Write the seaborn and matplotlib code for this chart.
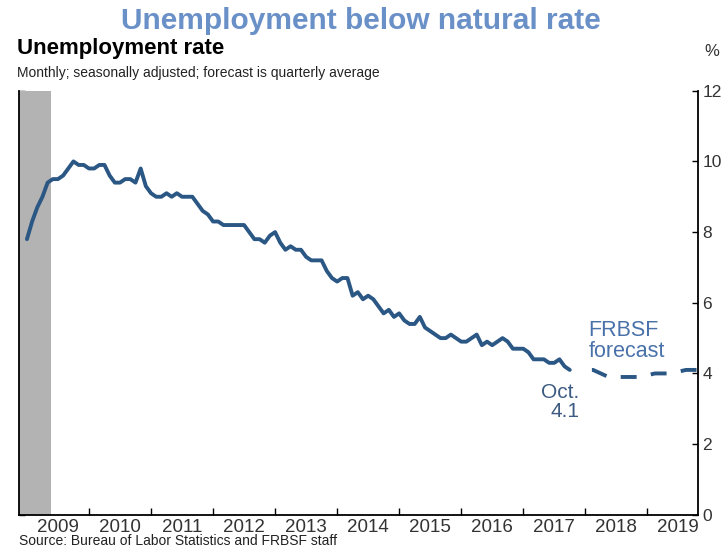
import numpy as np
import pandas as pd
import matplotlib.pyplot as plt
import seaborn as sns

# monthly unemployment rate, Jan 2009 - Oct 2017
unrate = [7.8, 8.3, 8.7, 9.0, 9.4, 9.5, 9.5, 9.6, 9.8, 10.0, 9.9, 9.9,
          9.8, 9.8, 9.9, 9.9, 9.6, 9.4, 9.4, 9.5, 9.5, 9.4, 9.8, 9.3,
          9.1, 9.0, 9.0, 9.1, 9.0, 9.1, 9.0, 9.0, 9.0, 8.8, 8.6, 8.5,
          8.3, 8.3, 8.2, 8.2, 8.2, 8.2, 8.2, 8.0, 7.8, 7.8, 7.7, 7.9,
          8.0, 7.7, 7.5, 7.6, 7.5, 7.5, 7.3, 7.2, 7.2, 7.2, 6.9, 6.7,
          6.6, 6.7, 6.7, 6.2, 6.3, 6.1, 6.2, 6.1, 5.9, 5.7, 5.8, 5.6,
          5.7, 5.5, 5.4, 5.4, 5.6, 5.3, 5.2, 5.1, 5.0, 5.0, 5.1, 5.0,
          4.9, 4.9, 5.0, 5.1, 4.8, 4.9, 4.8, 4.9, 5.0, 4.9, 4.7, 4.7,
          4.7, 4.6, 4.4, 4.4, 4.4, 4.3, 4.3, 4.4, 4.2, 4.1]
# FRBSF forecast, quarterly averages 2017Q4 - 2019Q4
fc_quarters = ["2017Q4", "2018Q1", "2018Q2", "2018Q3", "2018Q4",
               "2019Q1", "2019Q2", "2019Q3", "2019Q4"]
fc_values = [4.1, 4.1, 3.9, 3.9, 3.9, 4.0, 4.0, 4.1, 4.1]
years = list(range(2009, 2020))

LINE = "#2b5785"
TITLE_BLUE = "#6a90c8"
NOTE_BLUE = "#4a72aa"
TICK_GREY = "#333333"

sns.set_theme(style="white")
plt.rcParams["font.family"] = ["Liberation Sans", "DejaVu Sans"]

actual = pd.DataFrame({
    "t": 2009 + np.arange(len(unrate)) / 12,
    "rate": unrate,
})
# forecast plotted at the middle of each quarter
q_t = [int(q[:4]) + (int(q[-1]) - 0.5) / 4 for q in fc_quarters]
forecast = pd.DataFrame({"t": q_t, "rate": fc_values})

fig = plt.figure(figsize=(7.22, 5.5), dpi=100)
ax = fig.add_axes([0.027, 0.064, 0.94, 0.771])

ax.axvspan(2008.88, 2009.38, color="#b3b3b3", lw=0)
sns.lineplot(data=actual, x="t", y="rate", ax=ax, color=LINE, lw=2.8)
sns.lineplot(data=forecast, x="t", y="rate", ax=ax, color=LINE, lw=2.8,
             linestyle=(4.1, (4.1, 3.7)))

ax.set_xlim(2008.88, 2019.82)
ax.set_ylim(0, 12)
ax.set_xlabel("")
ax.set_ylabel("")

# y axis labels on the right, inward ticks on both spines
ax.yaxis.tick_right()
ax.set_yticks(range(0, 13, 2))
ax.tick_params(axis="y", which="both", direction="in", length=4, width=1,
               left=True, right=True, labelleft=False, labelright=True,
               labelsize=12.5, pad=3, colors="black")
for lbl in ax.get_yticklabels():
    lbl.set_color(TICK_GREY)

ax.set_xticks(range(2010, 2020))
ax.set_xticklabels([])
ax.set_xticks([y + 0.5 for y in years], minor=True)
ax.set_xticklabels([str(y) for y in years], minor=True, fontsize=13.5)
ax.tick_params(axis="x", which="major", direction="in", length=5, width=1,
               bottom=True, colors="black")
ax.tick_params(axis="x", which="minor", length=0, pad=3)
for lbl in ax.get_xticklabels(minor=True):
    lbl.set_color(TICK_GREY)

for side in ["left", "right", "bottom"]:
    ax.spines[side].set_color("black")
    ax.spines[side].set_linewidth(1.3)
ax.spines["top"].set_visible(False)

ax.text(2017.9, 3.2, "Oct.\n4.1", ha="right", va="center", fontsize=15,
        color="#3d5b82", linespacing=1.0)
ax.text(2018.05, 4.92, "FRBSF\nforecast", ha="left", va="center", fontsize=15.5,
        color=NOTE_BLUE, linespacing=1.0)

fig.text(0.5, 0.962, "Unemployment below natural rate", ha="center", va="center",
         fontsize=21.5, fontweight="bold", color=TITLE_BLUE)
fig.text(0.024, 0.912, "Unemployment rate", ha="left", va="center",
         fontsize=16, fontweight="bold", color="black")
fig.text(0.024, 0.867, "Monthly; seasonally adjusted; forecast is quarterly average",
         ha="left", va="center", fontsize=10, color="#222222")
fig.text(0.976, 0.907, "%", ha="left", va="center", fontsize=12, color=TICK_GREY)
fig.text(0.027, 0.003, "Source: Bureau of Labor Statistics and FRBSF staff",
         ha="left", va="bottom", fontsize=10, color="#222222")

fig.savefig("out.png", dpi=100, facecolor="white")
